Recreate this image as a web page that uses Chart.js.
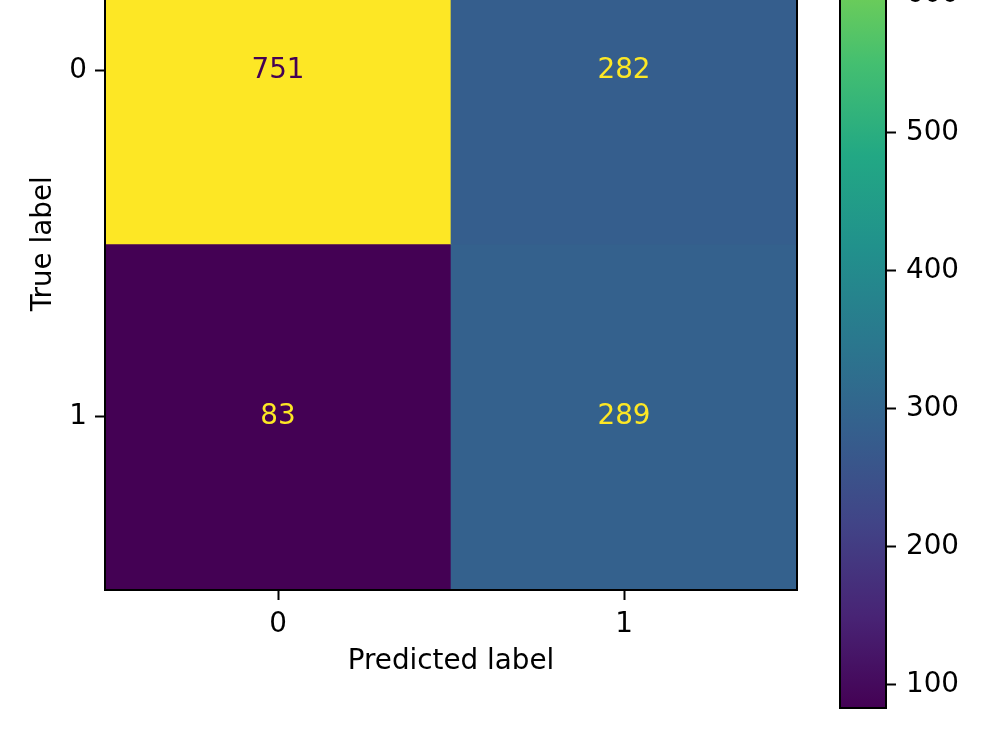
<!DOCTYPE html>
<html>
<head>
<meta charset="utf-8">
<script src="https://cdn.jsdelivr.net/npm/chart.js@4.4.1/dist/chart.umd.min.js"></script>
<style>
  html, body { margin: 0; padding: 0; background: #fff; overflow: hidden; }
  body { width: 1000px; height: 750px; position: relative; }
  #matrix { position: absolute; left: 0; top: -240px; width: 830px; height: 990px; }
  #cbar { position: absolute; left: 800px; top: -240px; width: 200px; height: 990px; }
</style>
</head>
<body>
<canvas id="matrix" width="830" height="990"></canvas>
<canvas id="cbar" width="200" height="990"></canvas>
<script>
// confusion matrix values (rows = true label, columns = predicted label)
const predictedLabels = ['0', '1'];
const trueLabels = ['0', '1'];
const countsTrue0 = [751, 282];
const countsTrue1 = [83, 289];
const colorbarTicks = [100, 200, 300, 400, 500, 600, 700];

const FONT = 'DejaVu Sans';
const FS = 27.8;

// viridis colormap stops
const VIRIDIS = ['#440154', '#482475', '#414487', '#355f8d', '#2a788e', '#21918c',
                 '#22a884', '#44bf70', '#7ad151', '#bddf26', '#fde725'];

const rows = [countsTrue0, countsTrue1];
const allCounts = rows.flat();
const vmin = Math.min(...allCounts);
const vmax = Math.max(...allCounts);

function hexToRgb(h) {
    return [1, 3, 5].map(i => parseInt(h.substr(i, 2), 16));
}
function viridis(t) {
    t = Math.max(0, Math.min(1, t));
    const pos = t * (VIRIDIS.length - 1);
    const i = Math.min(Math.floor(pos), VIRIDIS.length - 2);
    const f = pos - i;
    const a = hexToRgb(VIRIDIS[i]), b = hexToRgb(VIRIDIS[i + 1]);
    const c = a.map((v, k) => Math.round(v + (b[k] - v) * f));
    return `rgb(${c[0]},${c[1]},${c[2]})`;
}
const colorOf = v => viridis((v - vmin) / (vmax - vmin));

/** Khung đen quanh vùng vẽ */
const frame = {
    id: 'frame',
    afterDraw(chart) {
        const { ctx, chartArea: a } = chart;
        ctx.save();
        ctx.strokeStyle = '#000';
        ctx.lineWidth = 2;
        ctx.strokeRect(a.left, a.top, a.right - a.left, a.bottom - a.top);
        ctx.restore();
    }
};

/** Số đếm trong từng ô */
const cellText = {
    id: 'cellText',
    afterDatasetsDraw(chart) {
        const { ctx, scales } = chart;
        ctx.save();
        ctx.font = `${FS}px "${FONT}"`;
        ctx.textAlign = 'center';
        ctx.textBaseline = 'middle';
        rows.forEach((row, i) => {
            row.forEach((v, j) => {
                ctx.fillStyle = v > (vmin + vmax) / 2 ? VIRIDIS[0] : VIRIDIS[VIRIDIS.length - 1];
                ctx.fillText(String(v), scales.x.getPixelForValue(j), scales.y.getPixelForValue(i));
            });
        });
        ctx.restore();
    }
};

const tickFont = { family: FONT, size: FS };

new Chart(document.getElementById('matrix'), {
    type: 'bar',
    data: {
        labels: predictedLabels,
        datasets: rows.map((row, i) => ({
            data: row.map(() => [i - 0.5, i + 0.5]),
            backgroundColor: row.map(colorOf),
            borderWidth: 0,
            barPercentage: 1,
            categoryPercentage: 1,
            grouped: false
        }))
    },
    options: {
        responsive: false,
        animation: false,
        events: [],
        layout: { padding: { left: 0, right: 33, top: 137.6, bottom: 60 } },
        plugins: { legend: { display: false }, tooltip: { enabled: false } },
        scales: {
            x: {
                type: 'category',
                offset: true,
                grid: { offset: false, drawOnChartArea: false, tickLength: 10, tickWidth: 2, tickColor: '#000' },
                border: { display: false },
                ticks: { color: '#000', font: tickFont, padding: 8, maxRotation: 0 },
                title: { display: true, text: 'Predicted label', color: '#000', font: tickFont, padding: { top: 0, bottom: 12 } },
                afterFit: s => { s.height = 100; }
            },
            y: {
                type: 'linear',
                min: -0.5,
                max: 1.5,
                reverse: true,
                grid: { drawOnChartArea: false, tickLength: 10, tickWidth: 2, tickColor: '#000' },
                border: { display: false },
                ticks: { color: '#000', font: tickFont, padding: 8, callback: v => trueLabels[v] },
                afterBuildTicks: s => { s.ticks = trueLabels.map((_, i) => ({ value: i })); },
                title: { display: true, text: 'True label', color: '#000', font: tickFont, padding: { top: 27, bottom: 0 } },
                afterFit: s => { s.width = 105; }
            }
        }
    },
    plugins: [cellText, frame]
});

new Chart(document.getElementById('cbar'), {
    type: 'bar',
    data: {
        labels: [''],
        datasets: [{
            data: [[vmin, vmax]],
            borderWidth: 0,
            barPercentage: 1,
            categoryPercentage: 1,
            backgroundColor: (c) => {
                const chart = c.chart;
                if (!chart.chartArea) return VIRIDIS[5];
                const y = chart.scales.y;
                const g = chart.ctx.createLinearGradient(0, y.getPixelForValue(vmin), 0, y.getPixelForValue(vmax));
                VIRIDIS.forEach((col, k) => g.addColorStop(k / (VIRIDIS.length - 1), col));
                return g;
            }
        }]
    },
    options: {
        responsive: false,
        animation: false,
        events: [],
        layout: { padding: { left: 40, right: 0, top: 20, bottom: 42 } },
        plugins: { legend: { display: false }, tooltip: { enabled: false } },
        scales: {
            x: { display: false },
            y: {
                position: 'right',
                min: vmin,
                max: vmax,
                grid: { drawOnChartArea: false, tickLength: 10, tickWidth: 2, tickColor: '#000' },
                border: { display: false },
                ticks: { color: '#000', font: tickFont, padding: 10 },
                afterBuildTicks: s => { s.ticks = colorbarTicks.map(v => ({ value: v })); },
                afterFit: s => { s.width = 114; }
            }
        }
    },
    plugins: [frame]
});
</script>
</body>
</html>
